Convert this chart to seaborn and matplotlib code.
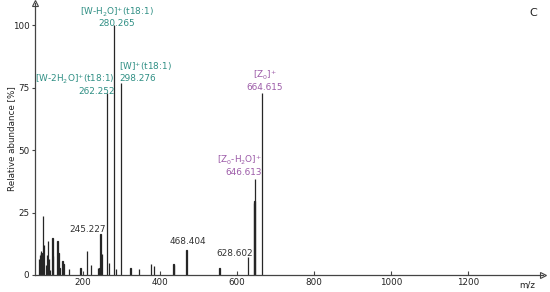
import matplotlib
matplotlib.use("Agg")
import matplotlib.pyplot as plt
import seaborn as sns
import pandas as pd

# ---- data ----
mz = [86, 88, 90, 91, 92, 94, 95.5, 97.5, 103.6, 105.4, 108, 110.6, 114,
      120.2, 121.8, 133.2, 135.8, 138.4, 146.2, 148.8, 162.5, 192.9, 211,
      219.7, 238.6, 242.3, 245.2, 249, 262.252, 267.2, 280.265, 285.4,
      298.276, 322.8, 344.4, 377.3, 384.1, 434.5, 437, 468.404, 554.7,
      628.602, 643.6, 645.0, 646.613, 664.615]
intensity = [6.5, 8.0, 9.0, 9.5, 9.0, 8.0, 23.5, 12.0, 4.0, 8.0, 13.5, 6.6, 2.0,
             15.0, 7.5, 13.5, 9.0, 3.0, 5.5, 4.5, 2.5, 2.8, 9.5,
             4.0, 3.0, 3.0, 16.5, 8.5, 73.0, 5.0, 100.0, 2.5,
             77.0, 2.8, 2.6, 4.3, 3.6, 4.5, 4.0, 10.0, 2.8,
             7.3, 29.0, 29.5, 38.5, 73.0]

# annotations: (mz, intensity, text, color, ha, dx, dy)
TEAL = "#2f8f84"
PURPLE = "#9c5ba8"
DARK = "#333333"
BAR = "#262626"
labels = [
    (280.265, 100.0, "[W-H$_2$O]$^{+}$(t18:1)\n280.265", TEAL, "center", 3, -3),
    (298.276, 77.0, "[W]$^{+}$(t18:1)\n298.276", TEAL, "left", -2, 0),
    (262.252, 73.0, "[W-2H$_2$O]$^{+}$(t18:1)\n262.252", TEAL, "right", 8, -3),
    (664.615, 73.0, "[Z$_0$]$^{+}$\n664.615", PURPLE, "center", 3, 1),
    (646.613, 38.5, "[Z$_0$-H$_2$O]$^{+}$\n646.613", PURPLE, "right", 7, 2),
    (245.227, 16.5, "245.227", DARK, "right", 5, 0),
    (468.404, 10.0, "468.404", DARK, "center", 1, 4),
    (628.602, 7.3, "628.602", DARK, "right", 5, -1),
]

df = pd.DataFrame({"mz": mz, "intensity": intensity})

sns.set_style("white")
plt.rcParams["font.family"] = ["DejaVu Sans"]
plt.rcParams["mathtext.default"] = "regular"

fig = plt.figure(figsize=(5.5, 2.92), dpi=100)
ax = fig.add_axes([35 / 550, 17 / 292, 508 / 550, 272 / 292])

sns.barplot(data=df, x="mz", y="intensity", native_scale=True, color=BAR,
            saturation=1, width=0.8, errorbar=None, ax=ax,
            linewidth=0.9, edgecolor=BAR)

ax.set_xlim(75, 1395)
ax.set_ylim(0, 109)
ax.set_xticks([200, 400, 600, 800, 1000, 1200])
ax.set_yticks([0, 25, 50, 75, 100])
ax.set_xlabel("")
ax.set_ylabel("")
fs = 6.3
afs = 6.4
ax.tick_params(axis="x", direction="in", length=3, width=0.8, color="#444",
               labelsize=fs, pad=2, labelcolor="#222")
ax.tick_params(axis="y", direction="out", length=2.5, width=0.8, color="#444",
               labelsize=fs, pad=1.5, labelcolor="#222")
ax.tick_params(axis="x", bottom=True)
ax.tick_params(axis="y", left=True)
for s in ["top", "right"]:
    ax.spines[s].set_visible(False)
for s in ["left", "bottom"]:
    ax.spines[s].set_color("#444")
    ax.spines[s].set_linewidth(0.9)

# axis arrow heads
ax.plot(1, 0, marker=">", markersize=4, mfc="white", mec="#444", mew=0.8,
        transform=ax.transAxes, clip_on=False)
ax.plot(0, 1, marker="^", markersize=4, mfc="white", mec="#444", mew=0.8,
        transform=ax.transAxes, clip_on=False)

for x, y, t, c, ha, dx, dy in labels:
    ax.annotate(t, xy=(x, y), xytext=(dx, dy), textcoords="offset pixels",
                ha=ha, va="bottom", multialignment=ha,
                color=c, fontsize=afs, linespacing=1.1)

fig.text(527 / 550, 1 - 285 / 292, "m/z", ha="center", va="center",
         fontsize=fs, color="#222")
fig.text(533 / 550, 1 - 13 / 292, "C", ha="center", va="center",
         fontsize=8, color="#222")
fig.text(12 / 550, 1 - 139 / 292, "Relative abundance [%]", rotation=90,
         ha="center", va="center", fontsize=fs, color="#222")

fig.savefig("out.png", dpi=100)
